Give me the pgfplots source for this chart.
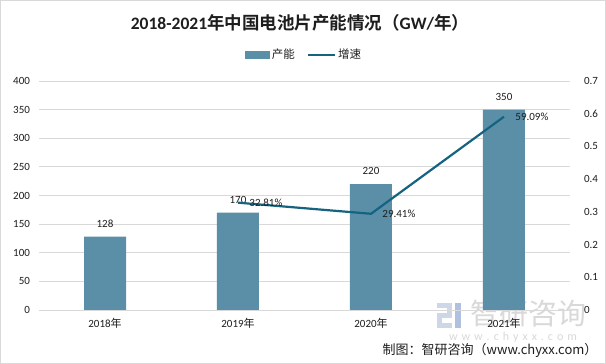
\documentclass[border=0pt]{standalone}
\usepackage{pgfplots}
\pgfplotsset{compat=1.18}
\usepackage{fontspec}
\setmainfont{Carlito}
\newfontfamily\cjk{Noto Sans CJK SC}[BoldFont={Noto Sans CJK SC Bold}]
\definecolor{barc}{RGB}{91,143,168}
\definecolor{linec}{RGB}{20,99,128}
\definecolor{gridc}{RGB}{217,217,217}
\definecolor{txt}{RGB}{30,30,30}
\definecolor{logoa}{RGB}{205,215,232}
\definecolor{logob}{RGB}{175,192,225}
\pgfplotstableread{
x v
0 128
1 170
2 220
3 350
}\bars
\pgfplotstableread{
x g
1 0.3281
2 0.2941
3 0.5909
}\growth
\begin{document}
\begin{tikzpicture}[x=1pt,y=1pt]
\fill[white] (0,0) rectangle (606,364);
\draw[gray!30] (0.5,0.5) rectangle (605.5,363.5);
% watermark
\fill[logoa] (437,56) rectangle (452,61);
\fill[logoa] (447,46) rectangle (452,61);
\fill[logoa] (437,46) rectangle (452,51);
\fill[logoa] (437,36) rectangle (442,51);
\fill[logoa] (437,36) rectangle (452,41);
\fill[logob] (455,36) rectangle (461,61);
\node[text=gray!30, font=\cjk\fontsize{29}{30}\selectfont] at (528,50) {智研咨询};
\node[text=gray!30, font=\fontsize{12}{13}\selectfont] at (513,27) {w\,\,w\,\,w\,\,.\,\,c\,\,h\,\,y\,\,x\,\,x\,\,.\,\,c\,\,o\,\,m};
\begin{axis}[
  at={(38.5pt,54pt)}, anchor=south west, scale only axis,
  width=532pt, height=229pt,
  xmin=-0.5, xmax=3.5, ymin=0, ymax=400,
  ytick={0,50,...,400},
  xtick={0,1,2,3},
  xticklabels={2018{\cjk 年},2019{\cjk 年},2020{\cjk 年},2021{\cjk 年}},
  axis line style={draw=none},
  major tick length=0pt,
  ymajorgrids, grid style={gridc, line width=0.8pt},
  tick label style={font=\fontsize{11}{13}\selectfont, text=txt},
  yticklabel style={xshift=-5pt},
  xticklabel style={yshift=-5pt},
  /pgf/number format/assume math mode=true,
  legend style={at={(0.499,1.114)}, anchor=center, draw=none, fill=none,
    legend columns=2, font=\cjk\fontsize{11.5}{13}\selectfont, text=txt,
    /tikz/every even column/.append style={column sep=10pt}},
  clip=false,
]
\addplot[ybar, bar width=42pt, fill=barc, draw=none,
  nodes near coords, nodes near coords style={font=\fontsize{11}{13}\selectfont, text=txt, yshift=6pt},
  legend image code/.code={\fill[barc] (0pt,-4pt) rectangle (25pt,4pt);}]
  table[x=x,y=v]{\bars};
\addlegendentry{产能}
\addlegendimage{legend image code/.code={\draw[linec,line width=2.2pt] (0pt,0pt) -- (27pt,0pt);}}
\addlegendentry{增速}
\end{axis}
\begin{axis}[
  at={(38.5pt,54pt)}, anchor=south west, scale only axis,
  width=532pt, height=229pt,
  xmin=-0.5, xmax=3.5, ymin=0, ymax=0.7,
  ytick={0,0.1,...,0.7},
  axis y line*=right, axis x line=none,
  axis line style={draw=none},
  major tick length=0pt,
  tick label style={font=\fontsize{11}{13}\selectfont, text=txt},
  yticklabel style={anchor=west, xshift=10pt, /pgf/number format/fixed, /pgf/number format/precision=1},
  /pgf/number format/assume math mode=true,
  clip=false,
]
\addplot[linec, line width=2.2pt, mark=none,
  point meta={\thisrow{g}*100},
  nodes near coords={\pgfmathprintnumber[fixed,fixed zerofill,precision=2]{\pgfplotspointmeta}\%},
  nodes near coords style={font=\fontsize{11}{13}\selectfont, text=txt, anchor=west, xshift=7pt}]
  table[x=x,y=g]{\growth};
\end{axis}
\node[font=\bfseries\fontsize{17.5}{20}\selectfont, text=txt] at (300,341) {2018-2021{\cjk\bfseries 年中国电池片产能情况（}GW/{\cjk\bfseries 年）}};
\node[anchor=east, font=\cjk\fontsize{13}{15}\selectfont, text=txt] at (601,14) {制图：智研咨询（www.chyxx.com）};
\end{tikzpicture}
\end{document}
